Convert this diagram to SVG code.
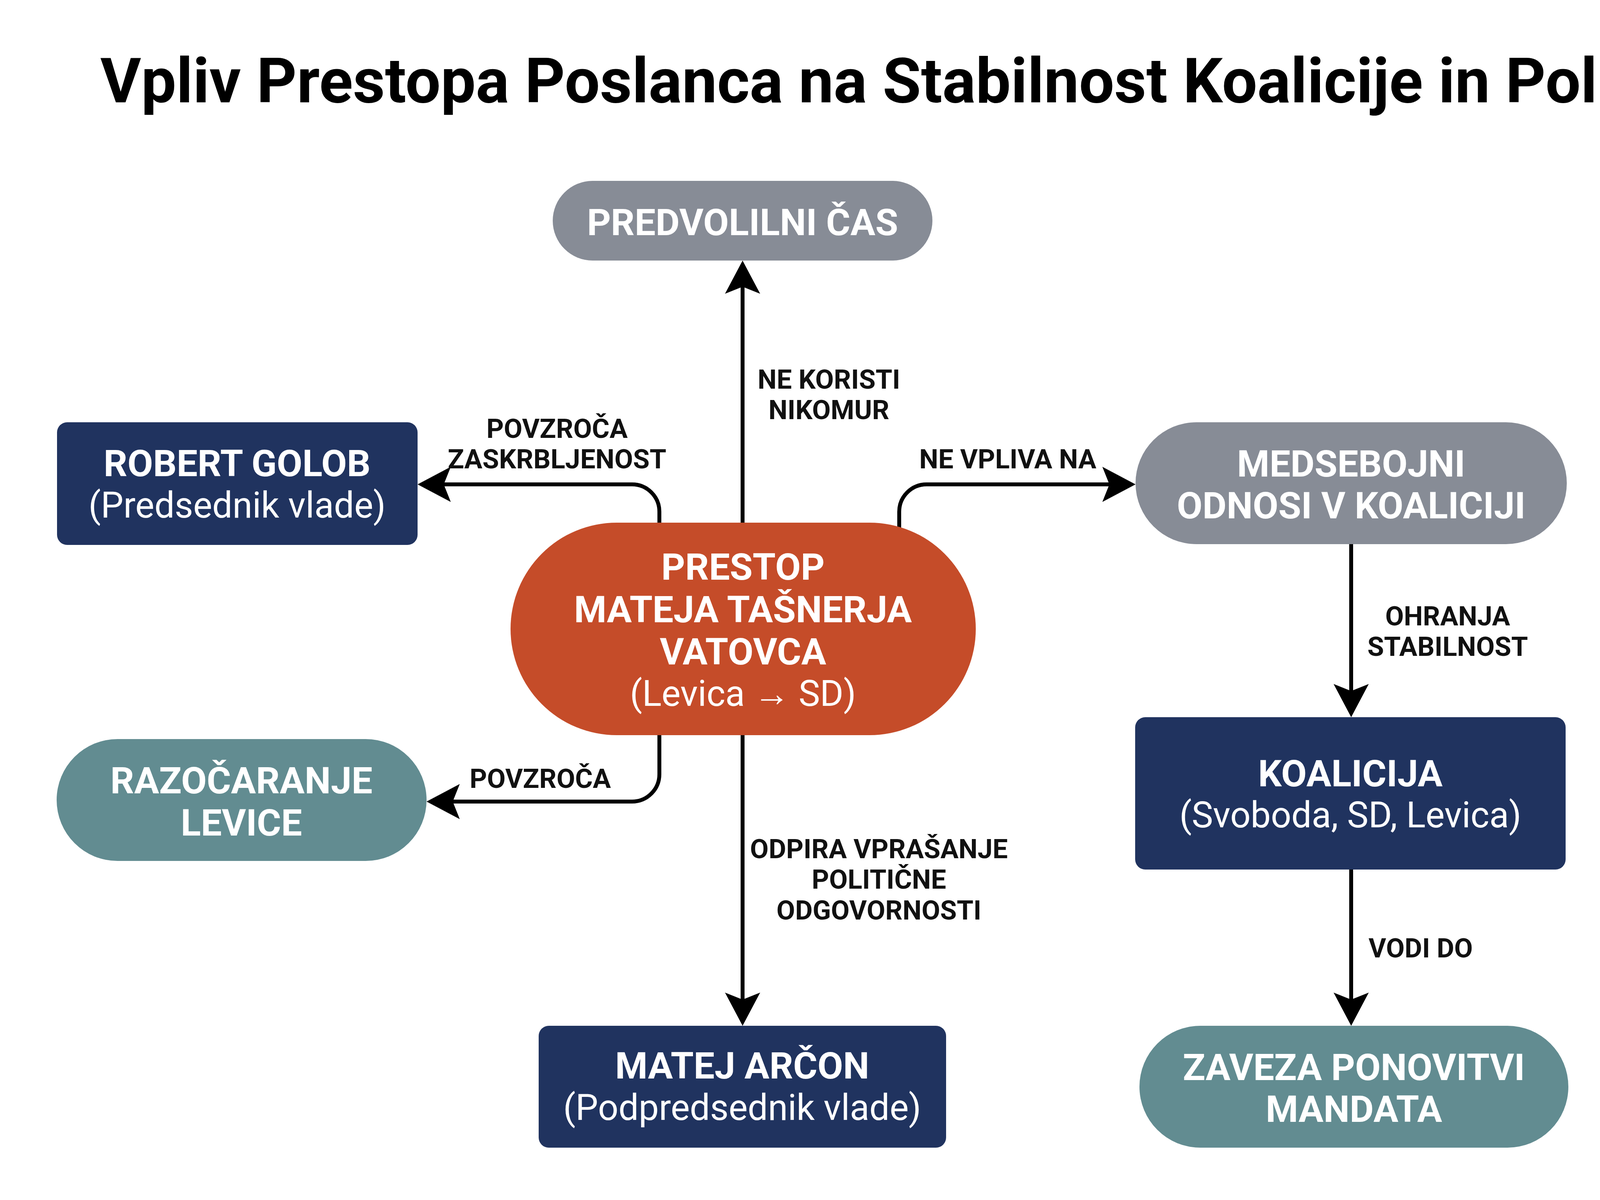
<svg xmlns="http://www.w3.org/2000/svg" width="5504" height="3072" viewBox="0 0 5504 3072">
<defs>
<style>
.bg{fill:#ffffff}
.title{font-family:Roboto,"Liberation Sans",sans-serif;font-weight:700;font-size:160px;fill:#000;text-anchor:middle}
.navy{fill:#20335f}
.orange{fill:#c54c29}
.teal{fill:#628c91}
.gray{fill:#878c96}
.nt{font-family:Roboto,"Liberation Sans",sans-serif;font-weight:700;font-size:95px;fill:#fff;text-anchor:middle}
.ns{font-family:Roboto,"Liberation Sans",sans-serif;font-weight:400;font-size:92px;fill:#fff;text-anchor:middle}
.lb{font-family:Roboto,"Liberation Sans",sans-serif;font-weight:700;font-size:69px;fill:#111;text-anchor:middle}
.edge{fill:none;stroke:#000;stroke-width:10;marker-end:url(#ah)}
</style>
<marker id="ah" viewBox="0 -45 85 90" markerWidth="85" markerHeight="90" refX="45" refY="0" orient="auto" markerUnits="userSpaceOnUse">
<path d="M85,0 L0,-45 L18,0 L0,45 Z" fill="#000"/>
</marker>
</defs>
<rect class="bg" x="0" y="0" width="5504" height="3072"/>
<text class="title" x="2752" y="262">Vpliv Prestopa Poslanca na Stabilnost Koalicije in Politično Dogajanje</text>

<g id="connectors">
<path class="edge" d="M1901,1400 V707"/>
<path class="edge" d="M1688,1400 V1310 A70,70 0 0 0 1618,1240 H1109"/>
<path class="edge" d="M2302,1400 V1310 A70,70 0 0 1 2372,1240 H2867"/>
<path class="edge" d="M1688,1820 V1982 A70,70 0 0 1 1618,2052 H1132"/>
<path class="edge" d="M1901,1820 V2586"/>
<path class="edge" d="M3459,1393 V1796"/>
<path class="edge" d="M3459,2226 V2586"/>
<path class="edge" d="M4781,740 V1098"/>
<path class="edge" d="M4781,1561 V1925"/>
<path class="edge" d="M4781,2279 V2586"/>
<text class="lb" x="2122" y="995">NE KORISTI</text>
<text class="lb" x="2122" y="1073">NIKOMUR</text>
<text class="lb" x="1426" y="1121">POVZROČA</text>
<text class="lb" x="1426" y="1199">ZASKRBLJENOST</text>
<text class="lb" x="2580" y="1199">NE VPLIVA NA</text>
<text class="lb" x="1383" y="2017">POVZROČA</text>
<text class="lb" x="2250" y="2197">ODPIRA VPRAŠANJE</text>
<text class="lb" x="2250" y="2275">POLITIČNE</text>
<text class="lb" x="2250" y="2354">ODGOVORNOSTI</text>
<text class="lb" x="3706" y="1601">OHRANJA</text>
<text class="lb" x="3706" y="1679">STABILNOST</text>
<text class="lb" x="3637" y="2451">VODI DO</text>
<text class="lb" x="5085" y="888">POSREDUJE</text>
<text class="lb" x="5085" y="967">KADROVSKE</text>
<text class="lb" x="5085" y="1045">PREDLOGE</text>
<text class="lb" x="5084" y="1696">IMA JANO</text>
<text class="lb" x="5084" y="1773">SOGLASJE ZA</text>
<text class="lb" x="5084" y="1851">NEKATERA IMENA</text>
<text class="lb" x="4957" y="2477">VODI DO</text>
</g>

<g id="predvolilni">
<rect class="gray" x="1415" y="463" width="972" height="204" rx="102"/>
<text class="nt" x="1901" y="602">PREDVOLILNI ČAS</text>
</g>
<g id="golob">
<rect class="navy" x="146" y="1081" width="923" height="314" rx="26"/>
<text class="nt" x="607" y="1219">ROBERT GOLOB</text>
<text class="ns" x="607" y="1325">(Predsednik vlade)</text>
</g>
<g id="prestop">
<rect class="orange" x="1307" y="1338" width="1191" height="544" rx="272"/>
<text class="nt" x="1902" y="1484">PRESTOP</text>
<text class="nt" x="1902" y="1593">MATEJA TAŠNERJA</text>
<text class="nt" x="1902" y="1701">VATOVCA</text>
<text class="ns" x="1902" y="1807">(Levica → SD)</text>
</g>
<g id="razocaranje">
<rect class="teal" x="145" y="1892" width="947" height="312" rx="156"/>
<text class="nt" x="618" y="2031">RAZOČARANJE</text>
<text class="nt" x="618" y="2139">LEVICE</text>
</g>
<g id="arcon">
<rect class="navy" x="1379" y="2626" width="1043" height="312" rx="26"/>
<text class="nt" x="1900" y="2761">MATEJ ARČON</text>
<text class="ns" x="1900" y="2867">(Podpredsednik vlade)</text>
</g>
<g id="medsebojni">
<rect class="gray" x="2907" y="1081" width="1104" height="312" rx="156"/>
<text class="nt" x="3459" y="1220">MEDSEBOJNI</text>
<text class="nt" x="3459" y="1327">ODNOSI V KOALICIJI</text>
</g>
<g id="koalicija">
<rect class="navy" x="2906" y="1836" width="1102" height="390" rx="26"/>
<text class="nt" x="3457" y="2013">KOALICIJA</text>
<text class="ns" x="3457" y="2118">(Svoboda, SD, Levica)</text>
</g>
<g id="zaveza">
<rect class="teal" x="2917" y="2626" width="1098" height="312" rx="156"/>
<text class="nt" x="3466" y="2765">ZAVEZA PONOVITVI</text>
<text class="nt" x="3466" y="2872">MANDATA</text>
</g>
<g id="natasa">
<rect class="navy" x="4203" y="428" width="1156" height="312" rx="26"/>
<text class="nt" x="4781" y="567">NATAŠA PIRC MUSAR</text>
<text class="ns" x="4781" y="673">(Predsednica republike)</text>
</g>
<g id="kadrovski">
<rect class="teal" x="4203" y="1138" width="1156" height="423" rx="211"/>
<text class="nt" x="4781" y="1276">KADROVSKI PREDLOGI</text>
<text class="ns" x="4781" y="1383">(Varuh, Guverner,</text>
<text class="ns" x="4781" y="1490">Ustavni sodniki)</text>
</g>
<g id="poslanska">
<rect class="navy" x="4212" y="1965" width="1148" height="314" rx="26"/>
<text class="nt" x="4786" y="2102">POSLANSKA SKUPINA</text>
<text class="nt" x="4786" y="2210">SVOBODA</text>
</g>
<g id="koncna">
<rect class="teal" x="4205" y="2626" width="1151" height="312" rx="156"/>
<text class="nt" x="4780" y="2763">KONČNA ODLOČITEV</text>
<text class="ns" x="4780" y="2871">(Naslednji teden)</text>
</g>
</svg>
